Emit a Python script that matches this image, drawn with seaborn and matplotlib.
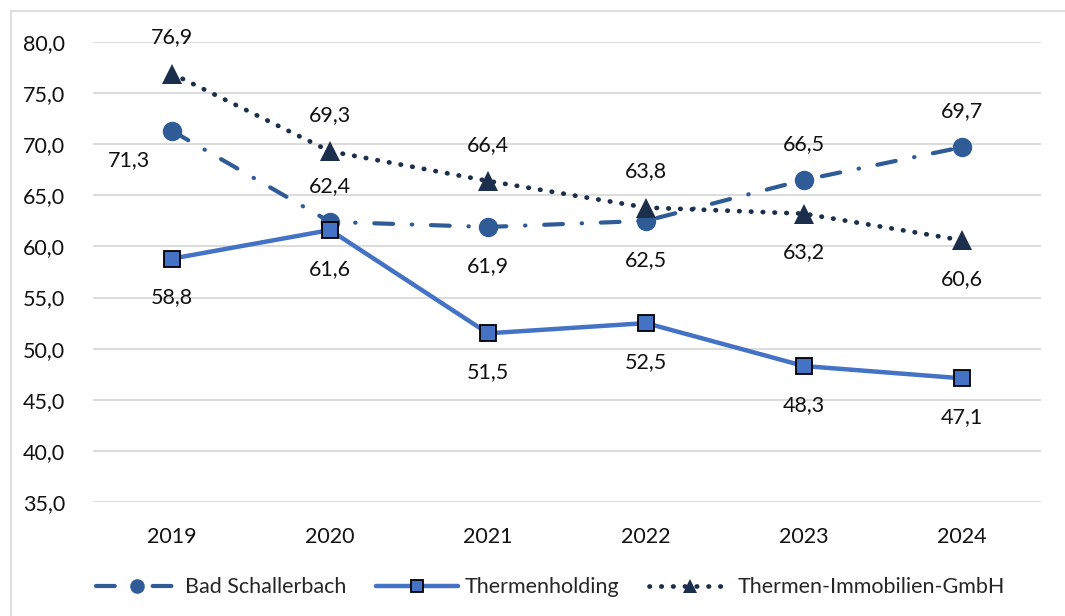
import matplotlib.pyplot as plt
import seaborn as sns

years = ["2019", "2020", "2021", "2022", "2023", "2024"]
bad_schallerbach = [71.3, 62.4, 61.9, 62.5, 66.5, 69.7]
thermenholding = [58.8, 61.6, 51.5, 52.5, 48.3, 47.1]
thermen_immo = [76.9, 69.3, 66.4, 63.8, 63.2, 60.6]

# label placement per point: "a" above, "b" below, "l" left-below
pos_bad = ["l", "a", "b", "b", "a", "a"]
pos_th = ["b", "b", "b", "b", "b", "b"]
pos_immo = ["a", "a", "a", "a", "b", "b"]

sns.set_theme(style="white")
plt.rcParams["font.family"] = ["Lato", "DejaVu Sans"]

fig = plt.figure(figsize=(10.65, 6.16), dpi=100)
ax = fig.add_axes([0.0873, 0.185, 0.8902, 0.747])

x = list(range(len(years)))

sns.lineplot(x=x, y=bad_schallerbach, ax=ax, color="#2F5C97", lw=3,
             linestyle=(0, (4.5, 4.5, 0.1, 4.5)), dash_capstyle="round",
             marker="o", markersize=14, markeredgewidth=0,
             label="Bad Schallerbach")
sns.lineplot(x=x, y=thermenholding, ax=ax, color="#4472C4", lw=3.2,
             marker="s", markersize=12, markerfacecolor="#4472C4",
             markeredgecolor="black", markeredgewidth=1.3,
             label="Thermenholding")
sns.lineplot(x=x, y=thermen_immo, ax=ax, color="#1B2E4B", lw=3.4,
             linestyle=(0, (0.1, 2.4)), dash_capstyle="round",
             marker="^", markersize=14, markeredgewidth=0,
             label="Thermen-Immobilien-GmbH")

fs = 15.5
offsets = {"a": (0, 26), "b": (0, -28), "l": (-31, -21)}
for series, places in [(bad_schallerbach, pos_bad), (thermenholding, pos_th), (thermen_immo, pos_immo)]:
    for xi, v, p in zip(x, series, places):
        ax.annotate(f"{v:.1f}".replace(".", ","), (xi, v), xytext=offsets[p],
                    textcoords="offset points", ha="center", va="center",
                    fontsize=fs, color="#111111")

ax.set_xlim(-0.5, len(years) - 0.5)
ax.set_ylim(35, 80)
ax.set_yticks(range(35, 81, 5))
ax.set_yticklabels([f"{t},0" for t in range(35, 81, 5)])
ax.set_xticks(x)
ax.set_xticklabels(years)
ax.tick_params(axis="both", labelsize=fs, colors="#111111", length=0)
ax.tick_params(axis="x", pad=18)
ax.tick_params(axis="y", pad=20)
ax.yaxis.grid(True, color="#D9D9D9", lw=1.3)
ax.set_axisbelow(True)
for s in ax.spines.values():
    s.set_visible(False)
ax.set_xlabel("")
ax.set_ylabel("")

ax.legend(loc="center", bbox_to_anchor=(0.517, 0.047), bbox_transform=fig.transFigure,
          ncol=3, frameon=False, fontsize=fs, handlelength=3.8, columnspacing=1.4,
          handletextpad=0.3, markerscale=0.75)

fig.patches.append(plt.Rectangle((0.0105, -0.01), 0.99, 0.992, transform=fig.transFigure,
                                 fill=False, edgecolor="#D9D9D9", lw=1.2))

fig.savefig("out.png", dpi=100)
